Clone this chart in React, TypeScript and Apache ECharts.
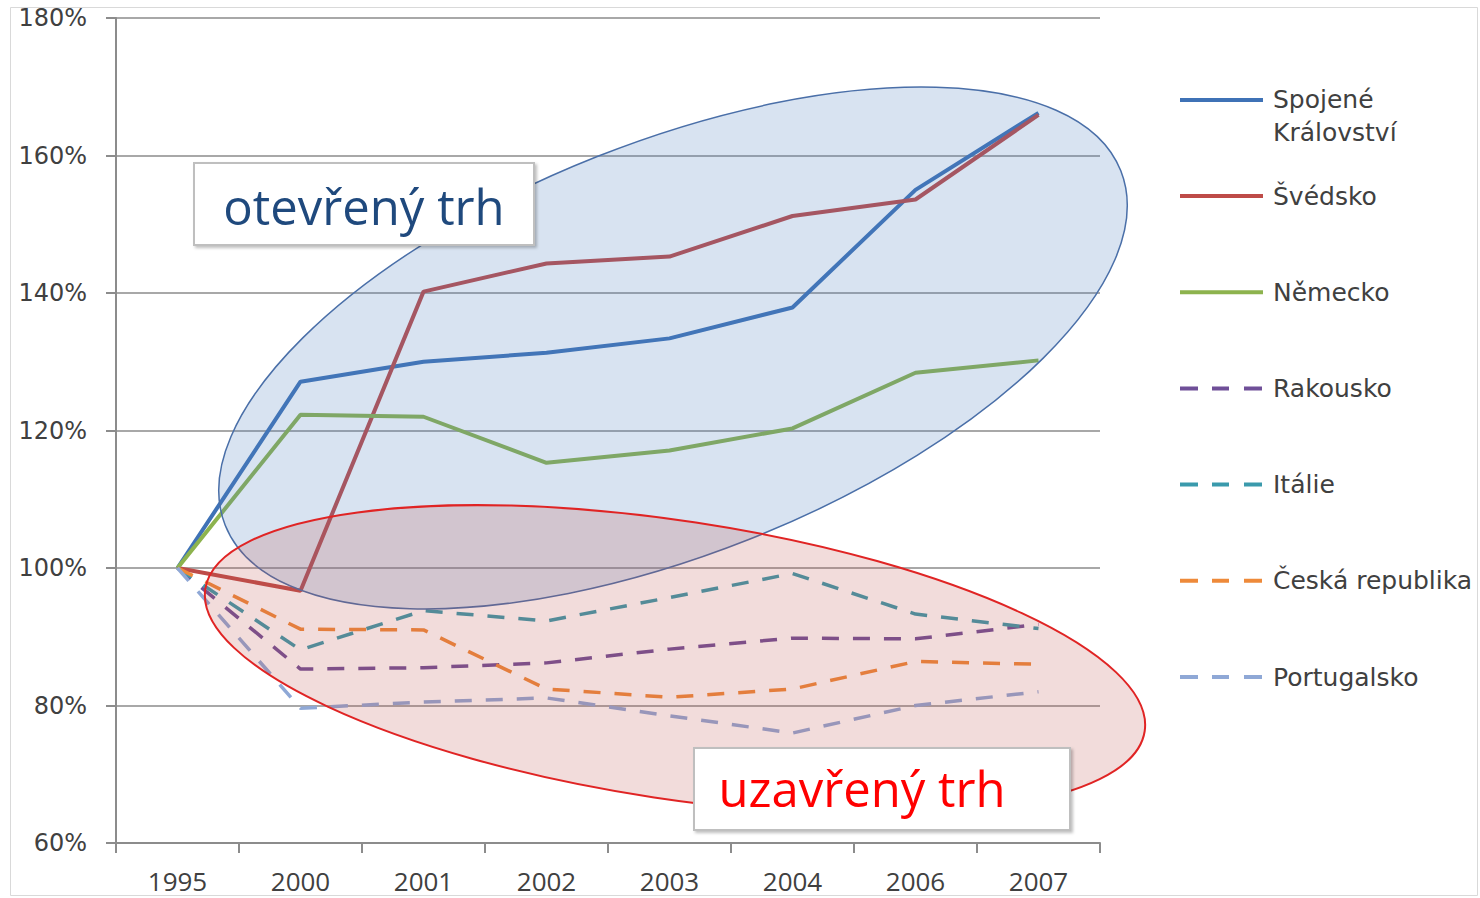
import React, { useEffect, useRef } from 'react';
import * as echarts from 'echarts';

const categories = ['1995', '2000', '2001', '2002', '2003', '2004', '2006', '2007'];
const yTicks = [60, 80, 100, 120, 140, 160, 180];

const ukValues = [100, 127.1, 130.0, 131.3, 133.4, 137.9, 155.0, 166.2];
const seValues = [100, 96.7, 140.2, 144.3, 145.3, 151.2, 153.6, 165.9];
const deValues = [100, 122.3, 122.0, 115.3, 117.1, 120.3, 128.4, 130.2];
const atValues = [100, 85.3, 85.5, 86.2, 88.2, 89.8, 89.7, 91.8];
const itValues = [100, 88.1, 93.8, 92.3, 95.7, 99.2, 93.3, 91.2];
const czValues = [100, 91.1, 91.0, 82.4, 81.2, 82.4, 86.4, 86.0];
const ptValues = [100, 79.6, 80.5, 81.1, 78.5, 76.0, 80.0, 82.0];

const names = [
  'Spojené Království',
  'Švédsko',
  'Německo',
  'Rakousko',
  'Itálie',
  'Česká republika',
  'Portugalsko',
];
const colors = ['#3F72B6', '#BE4B48', '#8DB34E', '#6F4F98', '#3A9AAC', '#EE8A3A', '#8FA8D6'];
const dashed = [false, false, false, true, true, true, true];
const values = [ukValues, seValues, deValues, atValues, itValues, czValues, ptValues];

const SOLID_ICON = 'path://M0,0h83v4h-83z M88,0h0.01v0.01h-0.01z';
const DASH_ICON = 'path://M0,0h18v4h-18z M32,0h17v4h-17z M64,0h18v4h-18z M88,0h0.01v0.01h-0.01z';
const FIRST_ICON = 'path://M0,0h83v4h-83z M88,36h0.01v0.01h-0.01z';

const legendText = { fontFamily: 'DejaVu Sans', fontSize: 25, color: '#404040' };

export default function App() {
  const ref = useRef<HTMLDivElement>(null);
  useEffect(() => {
    document.body.style.margin = '0';
    const chart = echarts.init(ref.current as HTMLDivElement, null, { renderer: 'svg' });
    const option = {
      animation: false,
      backgroundColor: '#ffffff',
      grid: { left: 116, right: 380, top: 18, bottom: 55, containLabel: false },
      xAxis: {
        type: 'category',
        data: categories,
        boundaryGap: true,
        axisLine: { lineStyle: { color: '#8C8C8C', width: 2 } },
        axisTick: { show: true, length: 10, interval: 0, lineStyle: { color: '#8C8C8C', width: 2 } },
        axisLabel: {
          interval: 0,
          margin: 25,
          fontFamily: 'Open Sans',
          fontSize: 26,
          lineHeight: 26,
          color: '#404040',
        },
        splitLine: { show: false },
      },
      yAxis: {
        type: 'value',
        min: yTicks[0],
        max: yTicks[yTicks.length - 1],
        interval: 20,
        axisLine: { show: true, lineStyle: { color: '#8C8C8C', width: 2 } },
        axisTick: { show: true, length: 10, lineStyle: { color: '#8C8C8C', width: 2 } },
        axisLabel: {
          margin: 29,
          formatter: '{value}%',
          fontFamily: 'DejaVu Sans',
          fontSize: 24,
          color: '#404040',
        },
        splitLine: { show: true, lineStyle: { color: '#A8A8A8', width: 2 } },
      },
      legend: [
        {
          orient: 'vertical',
          left: 1180,
          top: 83,
          padding: 0,
          itemWidth: 88,
          itemHeight: 36,
          symbolKeepAspect: false,
          itemStyle: { borderWidth: 0 },
          data: [{ name: names[0], icon: FIRST_ICON, itemStyle: { color: colors[0], borderWidth: 0 } }],
          formatter: () => 'Spojené\nKrálovství',
          textStyle: { ...legendText, lineHeight: 33 },
        },
        {
          orient: 'vertical',
          left: 1180,
          top: 183,
          padding: 0,
          itemWidth: 88,
          itemHeight: 4,
          itemGap: 70.2,
          symbolKeepAspect: false,
          itemStyle: { borderWidth: 0 },
          data: names.slice(1).map((n, i) => ({
            name: n,
            icon: dashed[i + 1] ? DASH_ICON : SOLID_ICON,
            itemStyle: { color: colors[i + 1], borderWidth: 0 },
          })),
          textStyle: { ...legendText, lineHeight: 26 },
        },
      ],
      series: names.map((n, i) => ({
        name: n,
        type: 'line',
        data: values[i],
        symbol: 'none',
        showSymbol: false,
        color: colors[i],
        z: 3,
        lineStyle: {
          color: colors[i],
          width: dashed[i] ? 3.5 : 4,
          type: dashed[i] ? [17, 14] : 'solid',
          cap: 'butt',
        },
      })),
      graphic: [
        {
          type: 'rect',
          z: 90,
          silent: true,
          shape: { x: 10.5, y: 7.5, width: 1467, height: 888 },
          style: { fill: 'none', stroke: '#D9D9D9', lineWidth: 1 },
        },
        {
          type: 'ellipse',
          z: 100,
          silent: true,
          x: 673,
          y: 348,
          rotation: (21.6 * Math.PI) / 180,
          shape: { cx: 0, cy: 0, rx: 481.5, ry: 205.9 },
          style: { fill: 'rgba(79,129,189,0.22)', stroke: '#4A6FA8', lineWidth: 1.5 },
        },
        {
          type: 'ellipse',
          z: 101,
          silent: true,
          x: 675,
          y: 660,
          rotation: (-8.65 * Math.PI) / 180,
          shape: { cx: 0, cy: 0, rx: 474.9, ry: 139 },
          style: { fill: 'rgba(192,80,77,0.2)', stroke: '#E02424', lineWidth: 2 },
        },
        {
          type: 'rect',
          z: 110,
          silent: true,
          shape: { x: 194, y: 163, width: 340, height: 82 },
          style: {
            fill: '#ffffff',
            stroke: '#BFBFBF',
            lineWidth: 2,
            shadowBlur: 3,
            shadowOffsetX: 2,
            shadowOffsetY: 2,
            shadowColor: 'rgba(0,0,0,0.25)',
          },
        },
        {
          type: 'text',
          z: 111,
          silent: true,
          style: {
            text: 'otevřený trh',
            x: 364,
            y: 206,
            fill: '#1F497D',
            fontFamily: 'Open Sans',
            fontSize: 49,
            align: 'center',
            verticalAlign: 'middle',
          },
        },
        {
          type: 'rect',
          z: 110,
          silent: true,
          shape: { x: 694, y: 748, width: 376, height: 82 },
          style: {
            fill: '#ffffff',
            stroke: '#BFBFBF',
            lineWidth: 2,
            shadowBlur: 3,
            shadowOffsetX: 2,
            shadowOffsetY: 2,
            shadowColor: 'rgba(0,0,0,0.25)',
          },
        },
        {
          type: 'text',
          z: 111,
          silent: true,
          style: {
            text: 'uzavřený trh',
            x: 862,
            y: 788,
            fill: '#FF0000',
            fontFamily: 'Open Sans',
            fontSize: 49,
            align: 'center',
            verticalAlign: 'middle',
          },
        },
      ],
    };
    chart.setOption(option as any);
    return () => chart.dispose();
  }, []);
  return <div ref={ref} style={{ width: 1480, height: 898 }} />;
}
